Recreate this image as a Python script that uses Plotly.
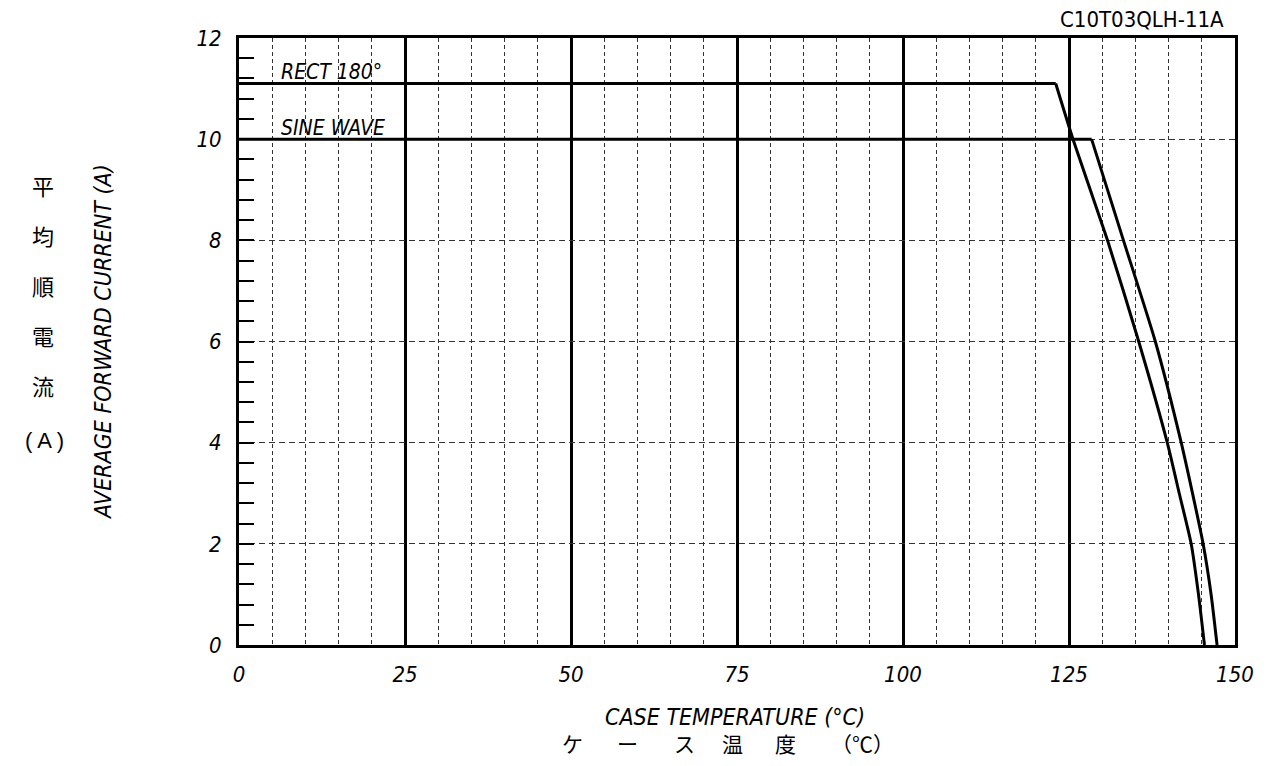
import plotly.graph_objects as go

# ---- data ----
rect_x = [0, 123, 125.6, 130.8, 135.5, 139.8, 141.6, 143.4, 144.5, 145.4]
rect_y = [11.1, 11.1, 10.0, 8.0, 6.0, 4.0, 3.0, 2.0, 1.0, 0.0]
sine_x = [0, 128.4, 133.2, 138.0, 141.9, 143.6, 145.2, 146.4, 147.3]
sine_y = [10.0, 10.0, 8.0, 6.0, 4.0, 3.0, 2.0, 1.0, 0.0]
series_labels = ["RECT 180°", "SINE WAVE"]
x_ticks = [0, 25, 50, 75, 100, 125, 150]
y_ticks = [0, 2, 4, 6, 8, 10, 12]
title_x_en = "CASE TEMPERATURE (°C)"
title_x_jp = ["ケ", "ー", "ス", "温", "度", "（℃）"]
title_y_en = "AVERAGE FORWARD CURRENT (A)"
title_y_jp = ["平", "均", "順", "電", "流", "( A )"]
part_no = "C10T03QLH-11A"

OFF = 8  # default page body margin
W, H = 1274 - 2 * OFF, 766 - 2 * OFF
L, R, T, B = 239 - OFF, 1235 - OFF, 38 - OFF, 645 - OFF
NARROW = "DejaVu Sans Condensed, Liberation Sans Narrow, sans-serif"
CJK = "Noto Sans CJK JP, Noto Sans CJK SC, sans-serif"


def px(xp):
    return (xp - OFF - L) / (R - L)


def py(yp):
    return (B - (yp - OFF)) / (B - T)


fig = go.Figure()
for xs, ys in [(rect_x, rect_y), (sine_x, sine_y)]:
    # flat plateau
    fig.add_trace(go.Scatter(x=xs[:2], y=ys[:2], mode="lines",
                             line=dict(color="black", width=3),
                             showlegend=False, hoverinfo="skip"))
    # derating slope (smooth)
    fig.add_trace(go.Scatter(x=xs[1:], y=ys[1:], mode="lines",
                             line=dict(color="black", width=3, shape="spline", smoothing=0.6),
                             showlegend=False, hoverinfo="skip"))

ann = []
# series labels
ann.append(dict(x=6.0, y=11.33, xref="x", yref="y", text=series_labels[0],
                xanchor="left", yanchor="middle", showarrow=False,
                font=dict(family=NARROW, size=21, color="black", style="italic")))
ann.append(dict(x=6.0, y=10.22, xref="x", yref="y", text=series_labels[1],
                xanchor="left", yanchor="middle", showarrow=False,
                font=dict(family=NARROW, size=21, color="black", style="italic")))
# part number
ann.append(dict(x=px(1226), y=py(19), xref="paper", yref="paper", text=part_no,
                xanchor="right", yanchor="middle", showarrow=False,
                font=dict(family=NARROW, size=22, color="black")))
# x titles
ann.append(dict(x=px(735), y=py(717), xref="paper", yref="paper", text=title_x_en,
                xanchor="center", yanchor="middle", showarrow=False,
                font=dict(family=NARROW, size=23, color="black", style="italic")))
jp_x_pos = [572, 627, 684, 732, 785, 862]
for ch, xp in zip(title_x_jp, jp_x_pos):
    ann.append(dict(x=px(xp), y=py(743), xref="paper", yref="paper", text=ch,
                    xanchor="center", yanchor="middle", showarrow=False,
                    font=dict(family=CJK, size=21, color="black")))
# y titles
ann.append(dict(x=px(103), y=py(342), xref="paper", yref="paper", text=title_y_en,
                textangle=-90, xanchor="center", yanchor="middle", showarrow=False,
                font=dict(family=NARROW, size=23, color="black", style="italic")))
jp_y_pos = [185, 235, 285, 335, 385, 440]
for i, (ch, yp) in enumerate(zip(title_y_jp, jp_y_pos)):
    ann.append(dict(x=px(43 if i < 5 else 44), y=py(yp), xref="paper", yref="paper", text=ch,
                    xanchor="center", yanchor="middle", showarrow=False,
                    font=dict(family=CJK if i < 5 else "Liberation Sans, Arial, sans-serif",
                              size=22, color="black")))

fig.update_layout(
    width=W, height=H,
    margin=dict(l=L, r=W - R, t=T, b=H - B, pad=0),
    paper_bgcolor="white", plot_bgcolor="white",
    annotations=ann,
    xaxis=dict(range=[0, 150], tickvals=x_ticks, ticktext=[str(v) for v in x_ticks],
               showgrid=True, gridcolor="black", gridwidth=3,
               showline=True, linecolor="black", linewidth=3, mirror=True,
               ticks="", zeroline=False, ticklabelstandoff=8,
               tickfont=dict(family=NARROW, size=22, color="black", style="italic"),
               minor=dict(dtick=5, tick0=0, showgrid=True, gridcolor="#333333",
                          gridwidth=1, griddash="4px,3px", ticks="")),
    yaxis=dict(range=[0, 12], tickvals=y_ticks, ticktext=[str(v) for v in y_ticks],
               showgrid=True, gridcolor="#333333", gridwidth=1, griddash="6px,4px",
               showline=True, linecolor="black", linewidth=3, mirror=True,
               ticks="inside", ticklen=15, tickcolor="black", tickwidth=1.5,
               zeroline=False, ticklabelstandoff=10,
               tickfont=dict(family=NARROW, size=22, color="black", style="italic"),
               minor=dict(dtick=0.4, tick0=0, ticks="inside", ticklen=15,
                          tickcolor="black", tickwidth=1.5, showgrid=False)),
)

fig.write_html("out.html")
